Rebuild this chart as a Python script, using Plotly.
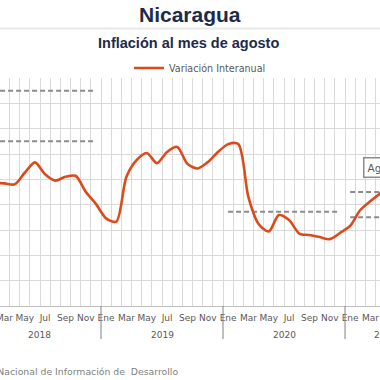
import plotly.graph_objects as go

# ---- data ----
meses = ["Ene", "Feb", "Mar", "Abr", "May", "Jun", "Jul", "Ago", "Sep", "Oct", "Nov", "Dic"]
anios = [2018, 2019, 2020, 2021]
meses_por_anio = [12, 12, 12, 8]

# Variación interanual (%) Ene-2018 ... Ago-2021 (last months outside the visible window)
inflacion = [
    4.90, 4.86, 4.84, 4.80, 5.26, 5.67, 5.20, 4.95, 5.10, 5.14, 4.51, 4.03,   # 2018
    3.46, 3.33, 5.10, 5.76, 6.04, 5.64, 6.08, 6.28, 5.61, 5.43, 5.68, 6.08,   # 2019
    6.39, 6.39, 4.30, 3.24, 2.94, 3.59, 3.39, 2.86, 2.80, 2.72, 2.64, 2.88,   # 2020
    3.16, 3.79, 4.14, 4.46, None, None, None, None,                           # 2021
]

# Meta / rango de inflación por año (líneas punteadas)
meta_anio = [2018, 2018, 2020, 2021, 2021]
meta_valor = [8.5, 6.5, 3.72, 4.5, 3.5]

# ---- derived categories ----
etiquetas = []
for a, n in zip(anios, meses_por_anio):
    etiquetas += [f"{meses[i]} {a}" for i in range(n)]
idx = list(range(len(etiquetas)))
inicio_anio = {}
pos = 0
for a, n in zip(anios, meses_por_anio):
    inicio_anio[a] = pos
    pos += n

LINE_COLOR = "#DC4A1C"
GRID = "#d9d9d9"
TXT = "#595959"
FONT = "DejaVu Sans"
X_RANGE = [1.566, 38.94]

fig = go.Figure()

# target lines
for a, v in zip(meta_anio, meta_valor):
    x0 = inicio_anio[a]
    fig.add_trace(go.Scatter(
        x=[x0, x0 + 10.8], y=[v, v], mode="lines",
        line=dict(color="#8c8c8c", width=2, dash="5px,3px"),
        showlegend=False, hoverinfo="skip"))

fig.add_trace(go.Scatter(
    x=idx, y=inflacion, mode="lines", name="Variación Interanual",
    line=dict(color=LINE_COLOR, width=2.6, shape="spline", smoothing=0.8),
    connectgaps=False))

# month tick labels every other month
tickvals = idx[::2]
ticktext = [etiquetas[i].split(" ")[0] for i in tickvals]

fig.update_xaxes(
    range=X_RANGE, automargin=False, ticklabeloverflow="allow",
    tickmode="array", tickvals=tickvals, ticktext=ticktext,
    showgrid=False, zeroline=False,
    showline=True, linecolor="#bfbfbf", linewidth=1,
    ticks="outside", ticklen=3, tickcolor="rgba(0,0,0,0)",
    tickfont=dict(family=FONT, size=9, color=TXT),
    minor=dict(tickmode="array", tickvals=[i - 0.5 for i in idx] + [len(idx) - 0.5],
               showgrid=True, gridcolor=GRID, gridwidth=1, ticks=""),
)
fig.update_yaxes(
    range=[0, 9], dtick=1, showgrid=True, gridcolor=GRID, gridwidth=1,
    showticklabels=False, zeroline=False, automargin=False,
)


def to_paper(xv):
    return (xv - X_RANGE[0]) / (X_RANGE[1] - X_RANGE[0])


shapes = []
annotations = []
plot_h = 228.0
# year dividers and labels
for a, n in zip(anios, meses_por_anio):
    s = inicio_anio[a]
    shapes.append(dict(type="line", xref="x", yref="paper",
                       x0=s - 0.5, x1=s - 0.5, y0=0, y1=-33 / plot_h,
                       line=dict(color="#808080", width=1)))
    annotations.append(dict(xref="paper", yref="paper", x=to_paper(s + (n - 1) / 2),
                            y=-29 / plot_h, text=str(a), showarrow=False,
                            xanchor="center", yanchor="middle",
                            font=dict(family=FONT, size=9, color=TXT)))

# separator under title
shapes.append(dict(type="line", xref="paper", yref="paper", x0=0, x1=1,
                   y0=(306 - 28.5) / plot_h, y1=(306 - 28.5) / plot_h,
                   line=dict(color="#e8e8e8", width=2)))

annotations.append(dict(xref="paper", yref="paper", x=190 / 380, y=(306 - 14) / plot_h,
                        text="<b>Nicaragua</b>", showarrow=False, xanchor="center", yanchor="middle",
                        font=dict(family="Liberation Sans", size=21, color="#1c2b4a")))
annotations.append(dict(xref="paper", yref="paper", x=188 / 380, y=(306 - 43) / plot_h,
                        text="<b>Inflación al mes de agosto</b>", showarrow=False,
                        xanchor="center", yanchor="middle",
                        font=dict(family="Liberation Sans", size=14.5, color="#1c2b4a")))
annotations.append(dict(xref="paper", yref="paper", x=180 / 380, y=-(371 - 306) / plot_h,
                        text="Fuente: Instituto Nacional de Información de  Desarrollo",
                        showarrow=False, xanchor="right", yanchor="middle",
                        font=dict(family=FONT, size=9.3, color="#808080")))
annotations.append(dict(xref="paper", yref="paper", x=363 / 380, y=(306 - 167.5) / plot_h,
                        text="Agosto 2021", showarrow=False, xanchor="left", yanchor="middle",
                        bgcolor="white", bordercolor="#8c8c8c", borderwidth=1.5, borderpad=3,
                        font=dict(family=FONT, size=10.5, color=TXT)))

fig.update_layout(
    width=380, height=380,
    margin=dict(l=0, r=0, t=78, b=74, autoexpand=False),
    paper_bgcolor="white", plot_bgcolor="white",
    showlegend=True,
    legend=dict(orientation="h", xanchor="left", x=129 / 380, yref="container",
                y=1 - 68 / 380, yanchor="middle",
                font=dict(family=FONT, size=9.6, color=TXT), bgcolor="rgba(0,0,0,0)"),
    shapes=shapes, annotations=annotations,
)

fig.write_html("out.html", config={"displayModeBar": False},
               post_script="document.body.style.margin='0px';document.body.style.overflow='hidden';")
